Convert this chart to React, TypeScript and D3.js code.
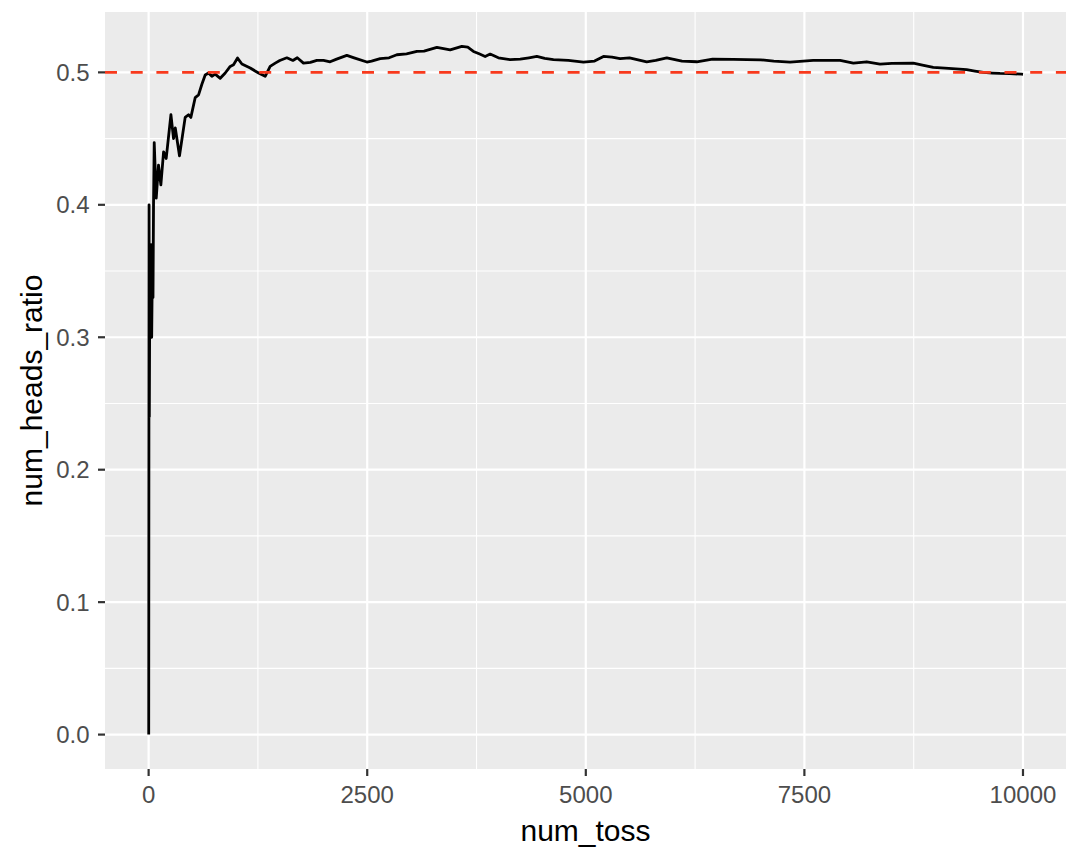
import React, {useEffect, useRef} from 'react';
import * as d3 from 'd3';

// num_toss / num_heads_ratio
const tosses = [
    1, 5, 8, 15, 20, 28, 35, 45, 50, 56, 64, 87, 113, 140, 171, 201, 255, 285, 305, 353,
    418, 456, 483, 533, 571, 609, 647, 685, 723, 761, 819, 876, 933, 971, 1017, 1067,
    1162, 1257, 1333, 1390, 1448, 1500, 1581, 1650, 1700, 1771, 1850, 1924, 2000, 2076,
    2150, 2267, 2350, 2496, 2550, 2648, 2750, 2839, 2950, 3068, 3150, 3297, 3449, 3582,
    3650, 3715, 3780, 3849, 3906, 4000, 4134, 4250, 4350, 4440, 4530, 4630, 4800, 4973,
    5100, 5202, 5300, 5392, 5500, 5697, 5800, 5926, 6100, 6269, 6450, 6688, 7000, 7150,
    7336, 7600, 7908, 8060, 8213, 8365, 8500, 8746, 8850, 8974, 9150, 9356, 9450, 9547,
    9650, 9737, 9850, 9985, 10000
];
const ratios = [
    0, 0.4, 0.24, 0.37, 0.3, 0.37, 0.3, 0.37, 0.33, 0.4, 0.447, 0.405, 0.43, 0.415, 0.44,
    0.435, 0.468, 0.45, 0.458, 0.437, 0.466, 0.468, 0.466, 0.481, 0.483, 0.491, 0.498,
    0.4995, 0.497, 0.4987, 0.4955, 0.4995, 0.5045, 0.5058, 0.5108, 0.5063, 0.5033, 0.4995,
    0.497, 0.5045, 0.507, 0.509, 0.511, 0.509, 0.511, 0.507, 0.5075, 0.509, 0.509, 0.508,
    0.51, 0.5128, 0.511, 0.5078, 0.5085, 0.5104, 0.511, 0.5133, 0.514, 0.5158, 0.516,
    0.5188, 0.517, 0.5196, 0.519, 0.5158, 0.514, 0.512, 0.5138, 0.511, 0.5096, 0.51,
    0.511, 0.512, 0.5105, 0.5096, 0.509, 0.5078, 0.5085, 0.512, 0.5115, 0.5104, 0.511,
    0.508, 0.509, 0.511, 0.5085, 0.508, 0.51, 0.5098, 0.5095, 0.5085, 0.5078, 0.509, 0.509,
    0.507, 0.508, 0.5062, 0.5068, 0.507, 0.5055, 0.5037, 0.503, 0.502, 0.501, 0.5,
    0.4995, 0.4992, 0.499, 0.4986, 0.4985
];
const xBreaks = [0, 2500, 5000, 7500, 10000];
const xMinor = [1250, 3750, 6250, 8750];
const yBreaks = [0, 0.1, 0.2, 0.3, 0.4, 0.5];
const yMinor = [0.05, 0.15, 0.25, 0.35, 0.45];
const refLine = 0.5;

export default function App() {
    const svgRef = useRef<SVGSVGElement>(null);

    useEffect(() => {
        const W = 1066, H = 849;
        const panel = {left: 105, top: 12, right: 1066, bottom: 769};

        const svg = d3.select(svgRef.current);
        svg.selectAll('*').remove();
        svg.attr('width', W).attr('height', H);

        const data = tosses.map((t, i) => ({x: t, y: ratios[i]}));

        // ggplot style 5% expansion
        const xe = d3.extent(tosses) as [number, number];
        const ye = d3.extent(ratios) as [number, number];
        const xp = (xe[1] - xe[0]) * 0.05;
        const yp = (ye[1] - ye[0]) * 0.05;

        const x = d3.scaleLinear()
            .domain([xe[0] - xp, xe[1] + xp])
            .range([panel.left, 1066.7]);
        const y = d3.scaleLinear()
            .domain([ye[0] - yp, ye[1] + yp])
            .range([panel.bottom, panel.top]);

        svg.append('rect')
            .attr('x', panel.left)
            .attr('y', panel.top)
            .attr('width', panel.right - panel.left)
            .attr('height', panel.bottom - panel.top)
            .attr('fill', '#EBEBEB');

        const grid = svg.append('g');
        xMinor.forEach(v => grid.append('line')
            .attr('x1', x(v)).attr('x2', x(v))
            .attr('y1', panel.top).attr('y2', panel.bottom)
            .attr('stroke', 'white').attr('stroke-width', 1.1));
        yMinor.forEach(v => grid.append('line')
            .attr('x1', panel.left).attr('x2', panel.right)
            .attr('y1', y(v)).attr('y2', y(v))
            .attr('stroke', 'white').attr('stroke-width', 1.1));
        xBreaks.forEach(v => grid.append('line')
            .attr('x1', x(v)).attr('x2', x(v))
            .attr('y1', panel.top).attr('y2', panel.bottom)
            .attr('stroke', 'white').attr('stroke-width', 2.2));
        yBreaks.forEach(v => grid.append('line')
            .attr('x1', panel.left).attr('x2', panel.right)
            .attr('y1', y(v)).attr('y2', y(v))
            .attr('stroke', 'white').attr('stroke-width', 2.2));

        const line = d3.line<{x: number, y: number}>()
            .x(d => x(d.x))
            .y(d => y(d.y));

        svg.append('path')
            .datum(data)
            .attr('fill', 'none')
            .attr('stroke', 'black')
            .attr('stroke-width', 2.8)
            .attr('stroke-linejoin', 'round')
            .attr('d', line);

        svg.append('line')
            .attr('x1', panel.left).attr('x2', panel.right)
            .attr('y1', y(refLine)).attr('y2', y(refLine))
            .attr('stroke', '#F8391C')
            .attr('stroke-width', 2.6)
            .attr('stroke-dasharray', '12 13.7');

        // ticks and labels
        const tickCol = '#333333', labCol = '#4D4D4D';
        const font = '"Liberation Sans", Arial, Helvetica, sans-serif';

        xBreaks.forEach(v => {
            svg.append('line')
                .attr('x1', x(v)).attr('x2', x(v))
                .attr('y1', panel.bottom).attr('y2', panel.bottom + 7)
                .attr('stroke', tickCol).attr('stroke-width', 2.2);
            svg.append('text')
                .attr('x', x(v))
                .attr('y', 803)
                .attr('text-anchor', 'middle')
                .attr('fill', labCol)
                .attr('font-family', font)
                .attr('font-size', '24px')
                .text(d3.format('d')(v));
        });

        yBreaks.forEach(v => {
            svg.append('line')
                .attr('x1', panel.left - 7).attr('x2', panel.left)
                .attr('y1', y(v)).attr('y2', y(v))
                .attr('stroke', tickCol).attr('stroke-width', 2.2);
            svg.append('text')
                .attr('x', 89.5)
                .attr('y', y(v))
                .attr('dy', '0.36em')
                .attr('text-anchor', 'end')
                .attr('fill', labCol)
                .attr('font-family', font)
                .attr('font-size', '24px')
                .text(d3.format('.1f')(v));
        });

        svg.append('text')
            .attr('x', (panel.left + panel.right) / 2)
            .attr('y', 841)
            .attr('text-anchor', 'middle')
            .attr('fill', 'black')
            .attr('font-family', font)
            .attr('font-size', '30px')
            .text('num_toss');

        svg.append('text')
            .attr('transform', `translate(42,${(panel.top + panel.bottom) / 2}) rotate(-90)`)
            .attr('text-anchor', 'middle')
            .attr('fill', 'black')
            .attr('font-family', font)
            .attr('font-size', '30px')
            .text('num_heads_ratio');
    }, []);

    return (
        <div style={{position: 'absolute', left: 0, top: 0, background: 'white'}}>
            <svg ref={svgRef}></svg>
        </div>
    );
}
